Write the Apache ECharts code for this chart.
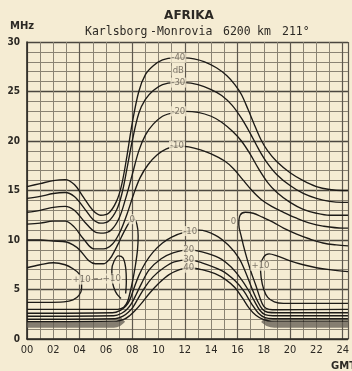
<!DOCTYPE html>
<html>
<head>
<meta charset="utf-8">
<style>
html,body{margin:0;padding:0;background:#f5ecd3;}
#chart{width:352px;height:371px;}
</style>
<script src="https://cdn.jsdelivr.net/npm/echarts@6.0.0/dist/echarts.min.js"></script>
</head>
<body>
<div id="chart"></div>
<script>
// Tick labels
const hourTicks = ['00','02','04','06','08','10','12','14','16','18','20','22','24'];
const freqTicks = [0, 5, 10, 15, 20, 25, 30];

// Field-strength contours, points are [hour GMT, MHz]
// upper (high-frequency) side
const upperM40 = [[0,15.4],[1,15.7],[2,16.0],[2.9,16.1],[3.6,15.6],[4.3,14.3],[5,13.0],[5.6,12.5],[6.2,12.7],[6.8,13.9],[7.2,15.6],[7.6,18.5],[8.0,21.8],[8.5,25.0],[9.0,26.7],[9.6,27.6],[10.3,28.2],[11.2,28.4],[12.0,28.4],[12.7,28.3],[13.5,28.0],[14.4,27.4],[15.2,26.6],[15.8,25.7],[16.3,24.7],[16.8,23.2],[17.3,21.6],[17.8,20.1],[18.3,19.0],[19,17.9],[20,16.8],[21,16.0],[22,15.4],[23,15.1],[24,15.0],[24.4,15.0]];
const upperM30 = [[0,14.2],[1,14.4],[2,14.7],[2.9,14.8],[3.6,14.4],[4.3,13.3],[5,12.1],[5.6,11.7],[6.2,11.9],[6.8,13.0],[7.2,14.6],[7.6,17.2],[8.0,20.0],[8.5,22.8],[9.0,24.2],[9.6,25.1],[10.3,25.7],[11.2,25.9],[12.0,25.9],[13,25.7],[14,25.2],[14.8,24.6],[15.6,23.6],[16.3,22.3],[17,20.7],[17.6,19.2],[18.2,17.9],[19,16.6],[20,15.5],[21,14.7],[22,14.2],[23,13.9],[24,13.8],[24.4,13.8]];
const upperM20 = [[0,12.8],[1,13.0],[2,13.3],[2.9,13.4],[3.6,13.0],[4.4,11.8],[5.2,10.8],[5.8,10.7],[6.4,11.0],[7.0,12.2],[7.5,14.2],[8.0,16.6],[8.5,19.0],[9.0,20.6],[9.6,21.7],[10.3,22.5],[11.2,22.9],[12,23.0],[13,22.9],[14,22.5],[14.8,21.9],[15.6,21.0],[16.3,20.0],[17,18.6],[17.6,17.2],[18.3,15.8],[19,14.8],[20,13.8],[21,13.1],[22,12.7],[23,12.5],[24,12.5],[24.4,12.5]];
const upperM10 = [[0,11.6],[1,11.7],[2,11.9],[2.9,11.9],[3.6,11.3],[4.3,10.1],[5.1,9.1],[5.8,9.1],[6.5,9.6],[7.1,10.9],[7.6,12.6],[8.1,14.6],[8.6,16.3],[9.2,17.6],[9.9,18.6],[10.6,19.2],[11.4,19.5],[12.3,19.4],[13.2,19.1],[14,18.7],[15,18.0],[15.7,17.2],[16.4,16.1],[17.1,15.0],[17.8,14.1],[18.6,13.4],[19.5,12.8],[20.5,12.2],[21.5,11.7],[22.5,11.4],[24,11.2],[24.4,11.2]];

// 0 dB contour, morning and evening branches
const zeroMorning = [[0,10.0],[1,10.0],[2,9.9],[3,9.8],[3.5,9.5],[4.0,9.0],[4.7,7.9],[5.2,7.6],[5.8,7.6],[6.3,8.1],[6.7,9.0],[7.0,9.8],[7.4,10.9],[7.8,11.8],[8.1,12.1],[8.35,11.6],[8.45,10.4],[8.4,9.0],[8.25,7.5],[8.05,6.0],[7.85,4.8],[7.65,3.8],[7.35,3.2],[6.9,3.0],[6,3.0],[3,3.0],[0,3.0]];
const zeroEvening = [[24.4,3.0],[19,2.95],[18.4,3.0],[18.0,3.3],[17.7,4.2],[17.4,5.4],[17.0,6.9],[16.6,8.7],[16.3,10.3],[16.1,11.6],[16.2,12.5],[16.6,12.8],[17.2,12.7],[17.9,12.3],[18.7,11.8],[19.5,11.2],[20.5,10.6],[21.5,10.1],[22.5,9.7],[23.5,9.5],[24.4,9.4]];

// +10 dB contours
const plus10Night = [[0,7.2],[1,7.5],[2,7.7],[2.9,7.5],[3.5,7.1],[3.95,6.6],[4.15,5.9],[4.15,5.1],[3.95,4.4],[3.5,3.95],[2.8,3.75],[1.5,3.7],[0,3.7]];
const plus10Dawn = [[7.15,4.1],[6.85,4.5],[6.6,5.2],[6.45,6.1],[6.45,7.0],[6.6,7.8],[6.95,8.4],[7.3,8.2],[7.5,7.2],[7.55,5.8],[7.5,4.6]];
const plus10Dusk = [[24.4,6.8],[23,7.0],[22,7.2],[21,7.5],[20,7.9],[19,8.4],[18.4,8.6],[18.0,8.3],[17.75,7.4],[17.8,6.2],[18.0,5.0],[18.3,4.2],[18.8,3.75],[19.5,3.6],[24.4,3.6]];
const plus10Link = [[4.55,6.05],[6.05,6.1]];

// lower (absorption) side
const lowerM10 = [[0,2.6],[6.5,2.65],[7.1,2.9],[7.5,3.3],[7.8,3.9],[8.1,5.0],[8.5,6.4],[9.0,7.7],[9.6,8.8],[10.3,9.7],[11.0,10.3],[12.0,10.8],[13.1,11.0],[14.3,10.5],[15.3,9.5],[16.1,8.2],[16.6,6.8],[17.1,5.1],[17.5,3.9],[17.9,3.0],[18.3,2.7],[19,2.65],[24.4,2.65]];
const lowerM20 = [[0,2.3],[6.6,2.35],[7.2,2.6],[7.6,3.0],[7.95,3.6],[8.3,4.5],[8.7,5.6],[9.3,7.0],[10.2,8.1],[11.1,8.7],[12.3,9.0],[13.3,8.8],[14.6,8.2],[15.5,7.3],[16.2,6.2],[16.8,5.0],[17.3,3.8],[17.7,2.9],[18.1,2.45],[18.7,2.35],[24.4,2.35]];
const lowerM30 = [[0,2.0],[6.7,2.05],[7.3,2.3],[7.7,2.7],[8.05,3.2],[8.45,4.1],[8.95,5.2],[9.6,6.3],[10.4,7.2],[11.2,7.8],[12.3,8.0],[13.3,7.7],[14.8,6.9],[15.8,5.9],[16.5,4.8],[17.1,3.5],[17.6,2.6],[18.1,2.15],[18.7,2.05],[24.4,2.05]];
const lowerM40 = [[0,1.75],[6.8,1.8],[7.4,2.0],[7.8,2.35],[8.2,2.85],[8.7,3.6],[9.3,4.6],[10.0,5.6],[10.8,6.5],[11.6,7.0],[12.3,7.2],[13.3,7.0],[14.3,6.6],[15.1,6.0],[15.8,5.2],[16.4,4.1],[16.9,3.1],[17.4,2.4],[18.0,1.95],[18.6,1.8],[24.4,1.8]];

// night-time bands of the lowest contours
const bandNightLeft = [[0,1.45],[6.6,1.45],[7.0,1.6],[7.3,1.95]];
const bandNightRight = [[17.95,1.95],[18.3,1.6],[18.8,1.45],[24.4,1.45]];

// contour value labels: [hour, MHz, text]
const contourLabels = [
  [11.5, 28.4, '-40'], [11.5, 27.1, 'dB'], [11.5, 25.9, '-30'], [11.5, 23.0, '-20'], [11.4, 19.5, '-10'],
  [8.0, 12.1, '0'], [15.7, 11.9, '0'],
  [4.15, 6.0, '+10'], [6.45, 6.1, '+10'], [17.75, 7.4, '+10'],
  [12.4, 10.9, '-10'], [12.3, 9.0, '20'], [12.3, 8.0, '30'], [12.3, 7.2, '40']
];

const BG = '#f5ecd3';
const INK = '#1c1a17';
const TEXT = '#2c2924';

function contour(data, extra) {
  return Object.assign({
    type: 'line', data: data, smooth: 0.35, symbol: 'none', silent: true,
    lineStyle: { color: INK, width: 1.35 }, z: 3
  }, extra || {});
}

const chart = echarts.init(document.getElementById('chart'), null, { renderer: 'canvas' });

const hourAxisBase = { type: 'value', min: 0, max: 24.4, position: 'bottom' };
const freqAxisBase = { type: 'value', min: 0, max: 30, position: 'left' };

chart.setOption({
  backgroundColor: BG,
  animation: false,
  grid: { left: 27, right: 0.5, top: 42, bottom: 32 },
  xAxis: [
    Object.assign({}, hourAxisBase, {
      interval: 1, axisLine: { show: false }, axisTick: { show: false }, axisLabel: { show: false },
      splitLine: { show: true, lineStyle: { color: '#8a8373', width: 1 } }
    }),
    Object.assign({}, hourAxisBase, {
      interval: 4, axisLine: { show: false }, axisTick: { show: false }, axisLabel: { show: false },
      splitLine: { show: true, lineStyle: { color: '#5e584e', width: 1.2 } }
    }),
    Object.assign({}, hourAxisBase, {
      interval: 2,
      axisLine: { show: true, onZero: false, lineStyle: { color: '#2a2722', width: 1.6 } },
      axisTick: { show: false }, splitLine: { show: false },
      axisLabel: {
        margin: 6, fontSize: 11, color: TEXT,
        fontFamily: '"Liberation Sans Narrow", "DejaVu Sans Condensed", sans-serif',
        formatter: function (v) {
          const i = Math.round(v / 2);
          return (Math.abs(v - i * 2) < 1e-6 && hourTicks[i] !== undefined) ? hourTicks[i] : '';
        }
      }
    })
  ],
  yAxis: [
    Object.assign({}, freqAxisBase, {
      interval: 1, axisLine: { show: false }, axisTick: { show: false }, axisLabel: { show: false },
      splitLine: { show: true, lineStyle: { color: '#8a8373', width: 1 } }
    }),
    Object.assign({}, freqAxisBase, {
      interval: 5,
      axisLine: { show: true, onZero: false, lineStyle: { color: '#2a2722', width: 1.6 } },
      axisTick: { show: false },
      splitLine: { show: true, lineStyle: { color: '#4a463e', width: 1.4 } },
      axisLabel: {
        margin: 7, fontSize: 10, fontWeight: 'bold', color: TEXT,
        fontFamily: '"DejaVu Sans Condensed", "DejaVu Sans", sans-serif',
        formatter: function (v) { return freqTicks.indexOf(v) >= 0 ? String(v) : ''; }
      }
    })
  ],
  graphic: [
    { type: 'text', x: 189, y: 16, style: { text: 'AFRIKA', fill: TEXT, font: 'bold 12px "DejaVu Sans"', textAlign: 'center', textVerticalAlign: 'middle' } },
    { type: 'text', x: 85, y: 32, style: { text: 'Karlsborg', fill: TEXT, font: '11.5px "DejaVu Sans Mono"', textVerticalAlign: 'middle' } },
    { type: 'text', x: 150, y: 32, style: { text: '-Monrovia', fill: TEXT, font: '11.5px "DejaVu Sans Mono"', textVerticalAlign: 'middle' } },
    { type: 'text', x: 223, y: 32, style: { text: '6200', fill: TEXT, font: '11.5px "DejaVu Sans Mono"', textVerticalAlign: 'middle' } },
    { type: 'text', x: 257, y: 32, style: { text: 'km', fill: TEXT, font: '11.5px "DejaVu Sans Mono"', textVerticalAlign: 'middle' } },
    { type: 'text', x: 282, y: 32, style: { text: '211°', fill: TEXT, font: '11.5px "DejaVu Sans Mono"', textVerticalAlign: 'middle' } },
    { type: 'text', x: 10, y: 26, style: { text: 'MHz', fill: TEXT, font: 'bold 10px "DejaVu Sans"', textVerticalAlign: 'middle' } },
    { type: 'text', x: 331, y: 366, style: { text: 'GMT', fill: TEXT, font: 'bold 10px "DejaVu Sans"', textVerticalAlign: 'middle' } }
  ],
  series: [
    contour(bandNightLeft, { smooth: 0.2, lineStyle: { color: 'rgba(95,90,80,0.75)', width: 6 }, z: 2 }),
    contour(bandNightRight, { smooth: 0.2, lineStyle: { color: 'rgba(95,90,80,0.75)', width: 6 }, z: 2 }),
    contour(upperM40), contour(upperM30), contour(upperM20), contour(upperM10),
    contour(zeroMorning), contour(zeroEvening),
    contour(plus10Night), contour(plus10Dawn), contour(plus10Dusk),
    contour(plus10Link, { smooth: false, lineStyle: { color: '#6b6358', width: 1.1, type: [4, 3] } }),
    contour(lowerM10), contour(lowerM20), contour(lowerM30), contour(lowerM40),
    {
      type: 'scatter', silent: true, z: 5, symbol: 'circle', symbolSize: 1,
      itemStyle: { color: 'rgba(0,0,0,0)' },
      data: contourLabels.map(function (d) { return { value: [d[0], d[1]], name: d[2] }; }),
      label: {
        show: true, position: 'inside', formatter: '{b}',
        fontSize: 9.5, color: '#5f584d', fontFamily: '"DejaVu Sans Condensed", "DejaVu Sans", sans-serif',
        backgroundColor: BG, padding: [0, 1]
      },
      labelLayout: { hideOverlap: false }
    }
  ]
});
</script>
</body>
</html>
